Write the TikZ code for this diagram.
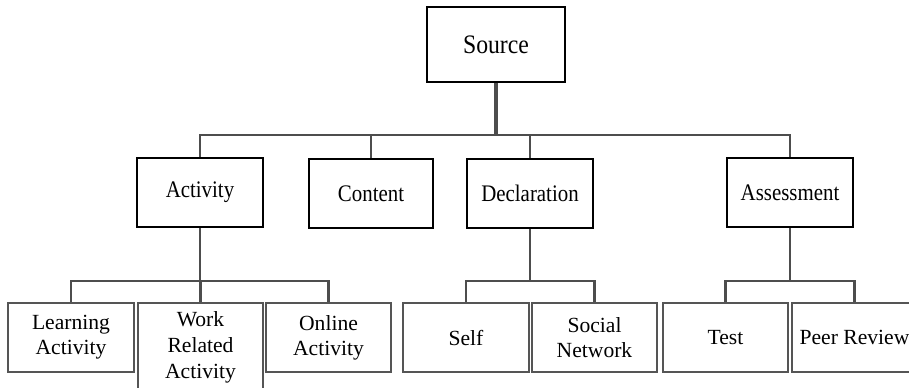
\documentclass[tikz,border=0pt]{standalone}
\usepackage{fontspec}
\setmainfont{Liberation Serif}
\definecolor{linegray}{HTML}{4D4D4D}
\definecolor{boxgray}{HTML}{555555}
\begin{document}
\begin{tikzpicture}[x=0.75pt,y=-0.75pt,
  conn/.style={draw=linegray,line width=2.1pt},
  srcbox/.style={draw=black,line width=1.5pt,inner sep=0pt,minimum width=103.5pt,minimum height=56.25pt,font=\fontsize{20}{22}\selectfont},
  midbox/.style={draw=black,line width=1.5pt,inner sep=0pt,minimum width=94.5pt,minimum height=51.75pt,font=\fontsize{17.8}{20}\selectfont},
  leafbox/.style={draw=boxgray,line width=1.6pt,inner sep=0pt,minimum width=94pt,minimum height=51.75pt,align=center,font=\fontsize{16.2}{18.9}\selectfont}]
\useasboundingbox (0,0) rectangle (909,387);
% top
\node[srcbox] (src) at (496,44.5) {\scalebox{0.89}[1]{Source}};
% level 2
\node[midbox] (act) at (200,192.5) {\scalebox{0.88}[1]{Activity}};
\node[midbox,minimum width=93pt] (con) at (371,193.5) {\scalebox{0.88}[1]{Content}};
\node[midbox] (dec) at (530,193) {\scalebox{0.88}[1]{Declaration}};
\node[midbox] (asm) at (790,192.5) {\scalebox{0.88}[1]{Assessment}};
% leaves
\node[leafbox] (lrn) at (71,337.5) {Learning\\Activity};
\node[leafbox,minimum height=90pt] (wrk) at (200.5,363) {\raisebox{0pt}[\height][\dimexpr\depth+24pt\relax]{\fontsize{16.2}{19.5}\selectfont\begin{tabular}{@{}c@{}}Work\\Related\\Activity\end{tabular}}};
\node[leafbox] (onl) at (328.5,337.5) {Online\\Activity};
\node[leafbox] (slf) at (466,337.5) {Self};
\node[leafbox] (soc) at (594.5,337.5) {Social\\Network};
\node[leafbox] (tst) at (725.5,337.5) {Test};
\node[leafbox] (per) at (854.5,337.5) {Peer Review};
% bus levels
\coordinate (b1) at (0,135);
\coordinate (b2) at (0,281);
% level 1 connectors
\draw[conn,line width=2.6pt] (src.south) -- (src.south |- b1);
\draw[conn] (act.north) -- (act.north |- b1) -- (asm.north |- b1) -- (asm.north);
\draw[conn] (con.north) -- (con.north |- b1);
\draw[conn] (dec.north) -- (dec.north |- b1);
% activity children
\draw[conn] (act.south) -- (act.south |- b2);
\draw[conn] (lrn.north) -- (lrn.north |- b2) -- (onl.north |- b2) -- (onl.north);
\draw[conn] (wrk.north) -- (wrk.north |- b2);
% declaration children
\draw[conn] (dec.south) -- (dec.south |- b2);
\draw[conn] (slf.north) -- (slf.north |- b2) -- (soc.north |- b2) -- (soc.north);
% assessment children
\draw[conn] (asm.south) -- (asm.south |- b2);
\draw[conn] (tst.north) -- (tst.north |- b2) -- (per.north |- b2) -- (per.north);
\end{tikzpicture}
\end{document}
